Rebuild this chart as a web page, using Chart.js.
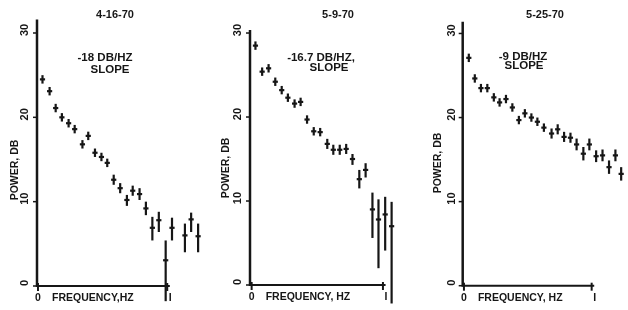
<!DOCTYPE html>
<html>
<head>
<meta charset="utf-8">
<script src="https://cdn.jsdelivr.net/npm/chart.js@4.4.1/dist/chart.umd.min.js"></script>
<style>
  body { margin: 0; background: #fff; }
  #wrap { position: relative; width: 628px; height: 310px; }
  canvas { position: absolute; top: 0; }
</style>
</head>
<body>
<div id="wrap">
  <canvas id="c1" width="210" height="310" style="left:0"></canvas>
  <canvas id="c2" width="210" height="310" style="left:210px"></canvas>
  <canvas id="c3" width="208" height="310" style="left:420px"></canvas>
</div>
<script>
// panel 1: 4-16-70
let freq1  = [0.035, 0.09, 0.137, 0.185, 0.237, 0.284, 0.344, 0.389, 0.441, 0.491, 0.536, 0.586, 0.636, 0.688, 0.733, 0.786, 0.835, 0.885, 0.935, 0.988, 1.037, 1.137, 1.185, 1.239];
let power1 = [24.5, 23.1, 21.1, 20.0, 19.3, 18.6, 16.8, 17.8, 15.8, 15.3, 14.6, 12.6, 11.6, 10.2, 11.3, 10.9, 9.2, 6.9, 7.8, 3.05, 6.9, 6.0, 7.9, 5.9];
let low1   = [24.0, 22.6, 20.6, 19.5, 18.8, 18.1, 16.3, 17.3, 15.3, 14.8, 14.1, 12.0, 11.0, 9.5, 10.7, 10.2, 8.4, 5.4, 6.4, -1.8, 5.4, 4.0, 6.4, 4.0];
let high1  = [25.0, 23.6, 21.6, 20.5, 19.8, 19.1, 17.3, 18.3, 16.3, 15.8, 15.1, 13.2, 12.2, 10.8, 11.9, 11.6, 10.0, 8.2, 8.8, 5.4, 8.1, 7.4, 8.7, 7.4];

// panel 2: 5-9-70
let freq2  = [0.029, 0.08, 0.129, 0.18, 0.229, 0.276, 0.327, 0.373, 0.422, 0.473, 0.522, 0.576, 0.622, 0.671, 0.72, 0.768, 0.82, 0.868, 0.92, 0.966, 1.017, 1.066];
let power2 = [28.5, 25.4, 25.8, 24.2, 23.2, 22.3, 21.6, 21.8, 19.7, 18.3, 18.2, 16.8, 16.1, 16.1, 16.2, 15.0, 12.6, 13.7, 9.0, 7.8, 8.4, 7.0];
let low2   = [28.0, 24.9, 25.3, 23.7, 22.7, 21.8, 21.1, 21.3, 19.2, 17.8, 17.7, 16.2, 15.5, 15.5, 15.6, 14.3, 11.5, 12.8, 5.6, 2.0, 4.1, -2.2];
let high2  = [29.0, 25.9, 26.3, 24.7, 23.7, 22.8, 22.1, 22.3, 20.2, 18.8, 18.7, 17.4, 16.7, 16.7, 16.8, 15.6, 13.7, 14.5, 11.0, 10.2, 10.5, 9.9];

// panel 3: 5-25-70
let freq3  = [0.038, 0.085, 0.133, 0.183, 0.234, 0.279, 0.329, 0.379, 0.43, 0.477, 0.528, 0.575, 0.626, 0.686, 0.734, 0.784, 0.834, 0.882, 0.935, 0.982, 1.035, 1.085, 1.136, 1.186, 1.231];
let power3 = [27.1, 24.65, 23.5, 23.5, 22.4, 21.8, 22.2, 21.2, 19.7, 20.5, 20.0, 19.5, 18.8, 18.1, 18.6, 17.7, 17.6, 16.8, 15.7, 16.8, 15.4, 15.5, 14.1, 15.5, 13.3];
let low3   = [26.6, 24.15, 23.0, 23.0, 21.9, 21.3, 21.7, 20.7, 19.2, 20.0, 19.5, 19.0, 18.3, 17.5, 18.0, 17.1, 17.0, 16.1, 14.9, 16.1, 14.7, 14.8, 13.3, 14.8, 12.5];
let high3  = [27.6, 25.15, 24.0, 24.0, 22.9, 22.3, 22.7, 21.7, 20.2, 21.0, 20.5, 20.0, 19.3, 18.7, 19.2, 18.3, 18.2, 17.5, 16.5, 17.5, 16.1, 16.2, 14.9, 16.2, 14.1];

let yTicks = [0, 10, 20, 30];
let xTicks = [0, 1];

const INK = '#161616';
const FONT = '"Liberation Sans", Arial, sans-serif';

// draws the hand-lettered axes, error bars and labels
const paper = {
  id: 'paper',
  beforeDatasetsDraw(chart, args, o) {
    const {ctx, scales: {x, y}} = chart;
    ctx.save();
    ctx.strokeStyle = INK;
    ctx.lineCap = 'butt';

    // error bars
    ctx.lineWidth = 2.2;
    o.freq.forEach((f, i) => {
      const px = x.getPixelForValue(f);
      ctx.beginPath();
      ctx.moveTo(px, y.getPixelForValue(o.low[i]));
      ctx.lineTo(px, y.getPixelForValue(o.high[i]));
      ctx.stroke();
    });

    // y axis
    const y0 = y.getPixelForValue(0);
    ctx.lineWidth = 2.5;
    ctx.beginPath();
    ctx.moveTo(x.left, y.top);
    ctx.lineTo(x.left, y0 + 1);
    ctx.stroke();
    ctx.lineWidth = 1.5;
    yTicks.forEach(t => {
      const py = y.getPixelForValue(t);
      ctx.beginPath();
      ctx.moveTo(x.left - 4, py);
      ctx.lineTo(x.left, py);
      ctx.stroke();
    });

    // x axis, stops just past 1 Hz
    ctx.lineWidth = 2;
    ctx.beginPath();
    ctx.moveTo(x.left, y0);
    ctx.lineTo(x.getPixelForValue(1.02), y0);
    ctx.stroke();
    xTicks.forEach(t => {
      const px = x.getPixelForValue(t);
      ctx.beginPath();
      ctx.moveTo(px, y0 - 3);
      ctx.lineTo(px, y0 + 5);
      ctx.stroke();
    });
    ctx.restore();
  },
  afterDraw(chart, args, o) {
    const {ctx, scales: {x, y}} = chart;
    ctx.save();
    ctx.fillStyle = INK;
    ctx.textAlign = 'center';
    ctx.textBaseline = 'middle';

    ctx.font = 'bold 11px ' + FONT;
    ctx.fillText(o.title, o.titleX, 15);

    ctx.font = 'bold 11.5px ' + FONT;
    ctx.fillText(o.note[0], o.noteX[0], o.noteY[0]);
    ctx.fillText(o.note[1], o.noteX[1], o.noteY[1]);

    // rotated y tick labels and title
    ctx.font = 'bold 11px ' + FONT;
    yTicks.forEach(t => {
      ctx.save();
      ctx.translate(x.left - o.tickGap, y.getPixelForValue(t) - 3);
      ctx.rotate(-Math.PI / 2);
      ctx.fillText(String(t), 0, 0);
      ctx.restore();
    });
    ctx.font = 'bold 10.5px ' + FONT;
    ctx.save();
    ctx.translate(o.yTitleX, o.yTitleY);
    ctx.rotate(-Math.PI / 2);
    ctx.fillText('POWER, DB', 0, 0);
    ctx.restore();

    // x labels
    const y0 = y.getPixelForValue(0);
    ctx.fillText('0', x.getPixelForValue(0), y0 + 12);
    ctx.fillText('I', x.getPixelForValue(1) + 3, y0 + 12);
    ctx.textAlign = 'left';
    ctx.fillText(o.xTitle, x.getPixelForValue(0) + 14, y0 + 12);
    ctx.restore();
  }
};

function panel(id, freq, power, low, high, opt) {
  return new Chart(document.getElementById(id), {
    type: 'scatter',
    data: {
      datasets: [{
        data: freq.map((f, i) => ({x: f, y: power[i]})),
        pointStyle: 'line',
        pointRadius: 2.6,
        pointBorderWidth: 2.2,
        borderColor: INK,
        backgroundColor: INK,
        clip: false
      }]
    },
    options: {
      responsive: false,
      animation: false,
      layout: {padding: opt.pad},
      scales: {
        x: {type: 'linear', display: false, min: opt.xMin, max: opt.xMax},
        y: {type: 'linear', display: false, min: 0, max: opt.yMax}
      },
      plugins: {
        legend: {display: false},
        tooltip: {enabled: false},
        paper: Object.assign({freq: freq, low: low, high: high}, opt.text)
      }
    },
    plugins: [paper]
  });
}

panel('c1', freq1, power1, low1, high1, {
  pad: {left: 37, right: 0, top: 19.5, bottom: 24},
  xMin: -0.0075, xMax: 1.283, yMax: 31.6,
  text: {title: '4-16-70', titleX: 115, note: ['-18 DB/HZ', 'SLOPE'], noteX: [105, 110], noteY: [58, 70],
         tickGap: 12, yTitleX: 15, yTitleY: 170, xTitle: 'FREQUENCY,HZ'}
});

panel('c2', freq2, power2, low2, high2, {
  pad: {left: 40, right: 0, top: 30, bottom: 25},
  xMin: -0.0125, xMax: 1.235, yMax: 30.36,
  text: {title: '5-9-70', titleX: 128, note: ['-16.7 DB/HZ,', 'SLOPE'], noteX: [111, 119], noteY: [58, 68],
         tickGap: 12, yTitleX: 16, yTitleY: 168, xTitle: 'FREQUENCY, HZ'}
});

panel('c3', freq3, power3, low3, high3, {
  pad: {left: 42.7, right: 0, top: 21.7, bottom: 24.3},
  xMin: -0.0098, xMax: 1.236, yMax: 31.4,
  text: {title: '5-25-70', titleX: 125, note: ['-9 DB/HZ', 'SLOPE'], noteX: [103, 104], noteY: [57, 66],
         tickGap: 11, yTitleX: 18, yTitleY: 163, xTitle: 'FREQUENCY, HZ'}
});
</script>
</body>
</html>
